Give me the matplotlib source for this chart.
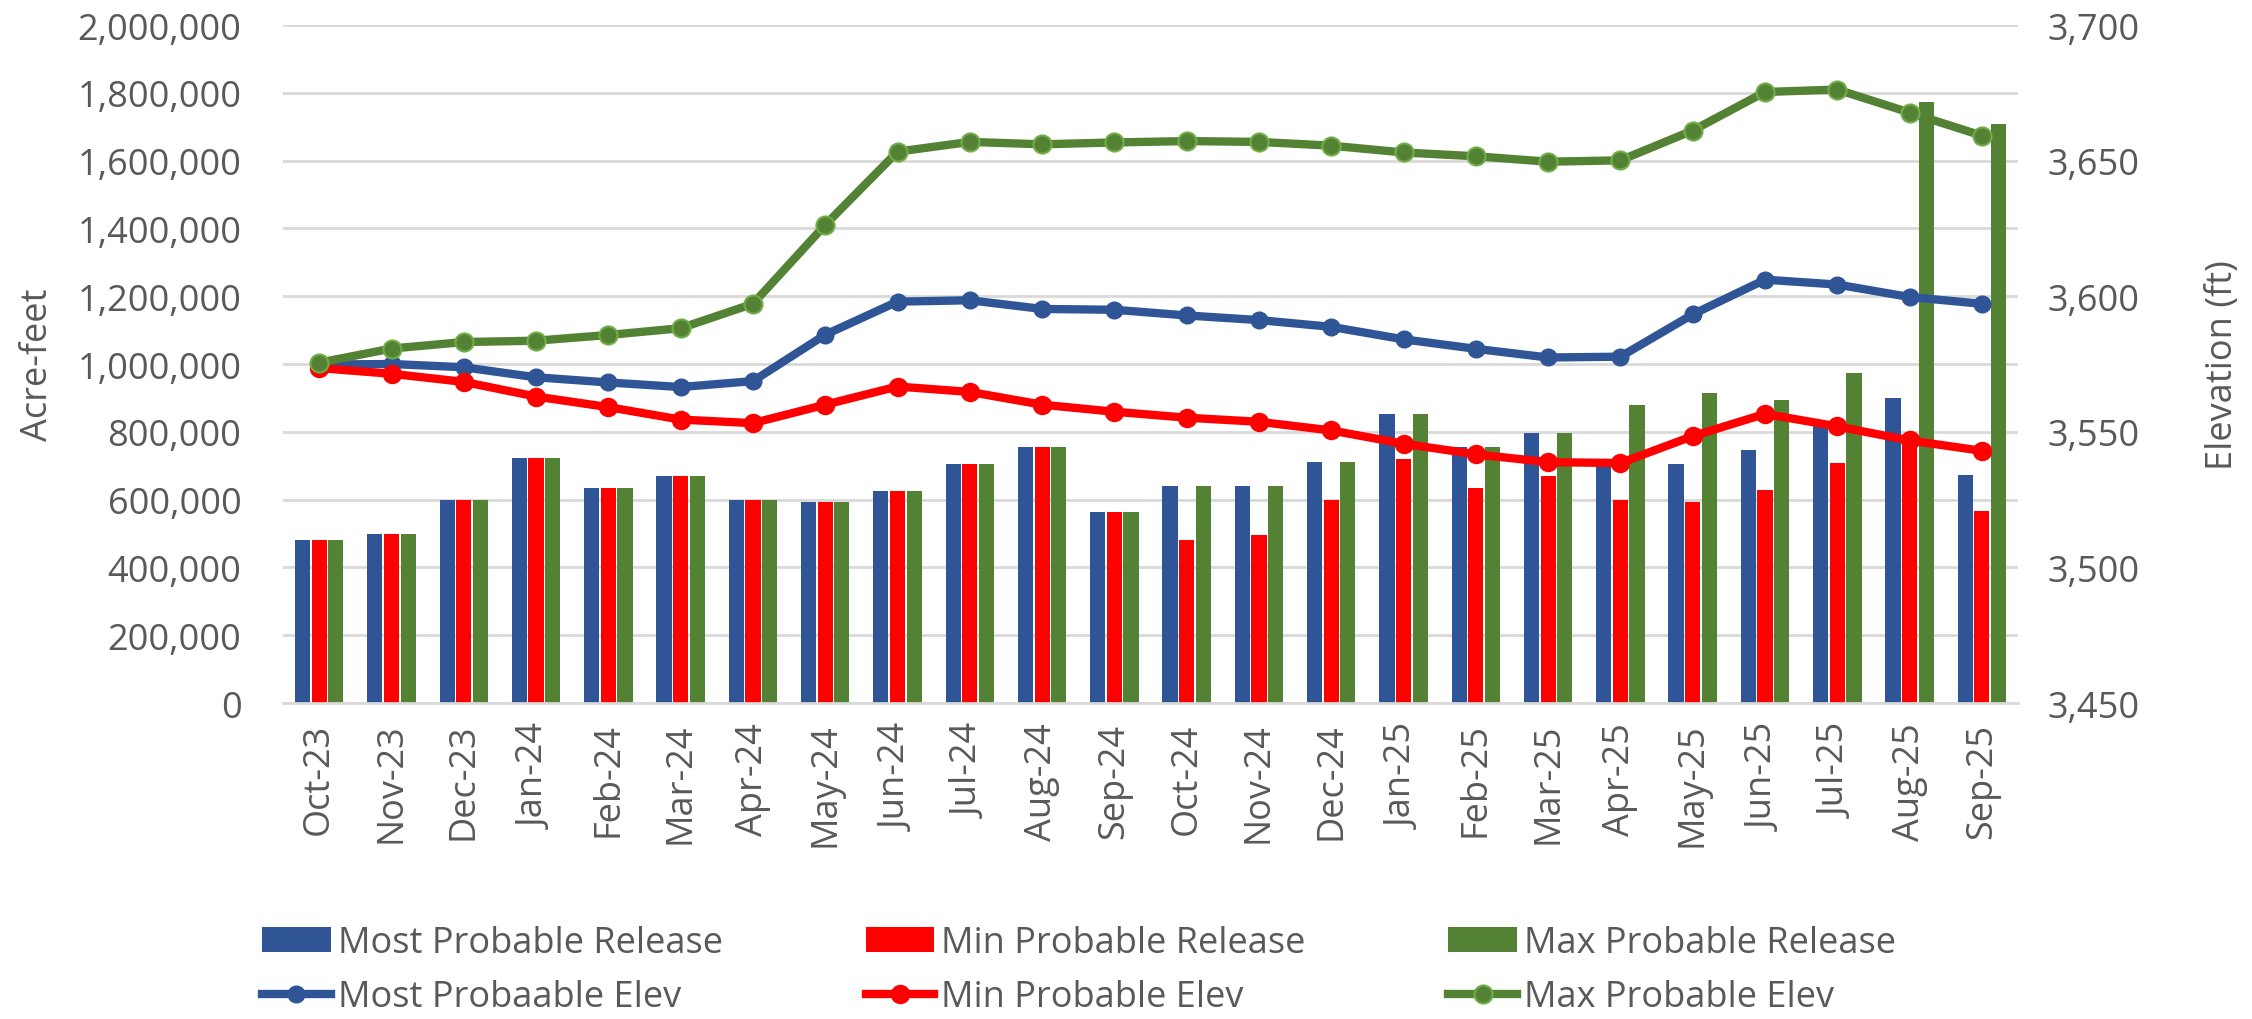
import matplotlib.pyplot as plt
import numpy as np
from matplotlib.ticker import FuncFormatter

plt.rcParams['font.family'] = ['Open Sans', 'DejaVu Sans']

months = ["Oct-23", "Nov-23", "Dec-23", "Jan-24", "Feb-24", "Mar-24", "Apr-24", "May-24",
          "Jun-24", "Jul-24", "Aug-24", "Sep-24", "Oct-24", "Nov-24", "Dec-24", "Jan-25",
          "Feb-25", "Mar-25", "Apr-25", "May-25", "Jun-25", "Jul-25", "Aug-25", "Sep-25"]

# releases (acre-feet)
most_release = [480000, 500000, 600000, 723000, 633000, 670000, 600000, 593000,
                624000, 705000, 756000, 563000, 640000, 640000, 710000, 852000,
                756000, 797000, 700000, 705000, 746000, 830000, 900000, 673000]
min_release = [480000, 500000, 600000, 723000, 633000, 670000, 600000, 593000,
               624000, 705000, 756000, 563000, 480000, 497000, 600000, 721000,
               633000, 670000, 600000, 593000, 627000, 708000, 780000, 565000]
max_release = [480000, 500000, 600000, 723000, 633000, 670000, 600000, 593000,
               624000, 705000, 756000, 563000, 640000, 640000, 710000, 852000,
               756000, 797000, 880000, 915000, 895000, 972000, 1773000, 1708000]

# elevations (ft)
most_elev = [3574.8, 3575.0, 3573.8, 3570.1, 3568.2, 3566.5, 3568.7, 3585.8,
             3598.0, 3598.5, 3595.3, 3595.0, 3592.9, 3591.2, 3588.7, 3584.1,
             3580.6, 3577.4, 3577.7, 3593.3, 3606.1, 3604.3, 3599.7, 3597.2]
min_elev = [3573.5, 3571.4, 3568.4, 3563.0, 3559.1, 3554.5, 3553.2, 3560.0,
            3566.7, 3564.7, 3560.0, 3557.4, 3555.2, 3553.7, 3550.5, 3545.6,
            3541.7, 3538.8, 3538.5, 3548.4, 3556.6, 3552.0, 3546.8, 3543.0]
max_elev = [3575.5, 3580.7, 3583.1, 3583.6, 3585.7, 3588.2, 3597.2, 3626.3,
            3653.3, 3656.9, 3656.0, 3656.7, 3657.2, 3656.9, 3655.5, 3653.0,
            3651.6, 3649.6, 3650.1, 3661.1, 3675.3, 3676.2, 3667.7, 3659.2]

blue = "#2F5597"
red = "#FF0000"
green = "#548235"
txt = "#595959"
fs = 26

fig = plt.figure(figsize=(22.52, 10.2), dpi=100)
ax = fig.add_axes([0.1257, 0.3098, 0.7704, 0.6647])
ax2 = ax.twinx()

x = np.arange(len(months))
w = 0.21
b1 = ax.bar(x - 0.23, most_release, w, color=blue, label="Most Probable Release", zorder=2)
b2 = ax.bar(x, min_release, w, color=red, label="Min Probable Release", zorder=2)
b3 = ax.bar(x + 0.23, max_release, w, color=green, label="Max Probable Release", zorder=2)

l1, = ax2.plot(x, most_elev, color=blue, lw=6, marker="o", ms=12, label="Most Probaable Elev")
l2, = ax2.plot(x, min_elev, color=red, lw=6, marker="o", ms=13, label="Min Probable Elev")
l3, = ax2.plot(x, max_elev, color=green, lw=6, marker="o", ms=13, mec="#70AD47", mew=1.5,
               label="Max Probable Elev")

ax.set_xlim(-0.5, len(months) - 0.5)
ax.set_ylim(0, 2000000)
ax.set_yticks(np.arange(0, 2000001, 200000))
ax.yaxis.set_major_formatter(FuncFormatter(lambda v, p: f"{int(v):,}"))
ax2.set_ylim(3450, 3700)
ax2.set_yticks(np.arange(3450, 3701, 50))
ax2.yaxis.set_major_formatter(FuncFormatter(lambda v, p: f"{int(v):,}"))

ax.grid(axis="y", color="#D9D9D9", lw=2, zorder=0)
ax.set_axisbelow(True)
for a in (ax, ax2):
    for s in a.spines.values():
        s.set_visible(False)
ax.spines["bottom"].set_visible(True)
ax.spines["bottom"].set_color("#D9D9D9")
ax.spines["bottom"].set_linewidth(2)

ax.set_xticks(x)
ax.set_xticklabels(months, rotation=90)
ax.tick_params(axis="x", length=0, pad=14, labelsize=fs, colors=txt)
ax.tick_params(axis="y", length=0, pad=30, labelsize=fs, colors=txt)
ax2.tick_params(axis="y", length=0, pad=21, labelsize=fs, colors=txt)

ax.set_ylabel("Acre-feet", fontsize=fs, color=txt)
ax.yaxis.set_label_coords(-0.131, 0.5)
ax2.set_ylabel("Elevation (ft)", fontsize=fs, color=txt, rotation=90)
ax2.yaxis.set_label_coords(1.108, 0.5)

handles = [b1, l1, b2, l2, b3, l3]
fig.legend(handles=handles, labels=[h.get_label() for h in handles], ncol=3,
           loc="upper left", bbox_to_anchor=(0.11, 0.106), frameon=False,
           fontsize=fs, labelcolor=txt, handlelength=1.9, handletextpad=0.2,
           columnspacing=3.95, labelspacing=0.5, borderaxespad=0)

fig.savefig("out.png", dpi=100)
